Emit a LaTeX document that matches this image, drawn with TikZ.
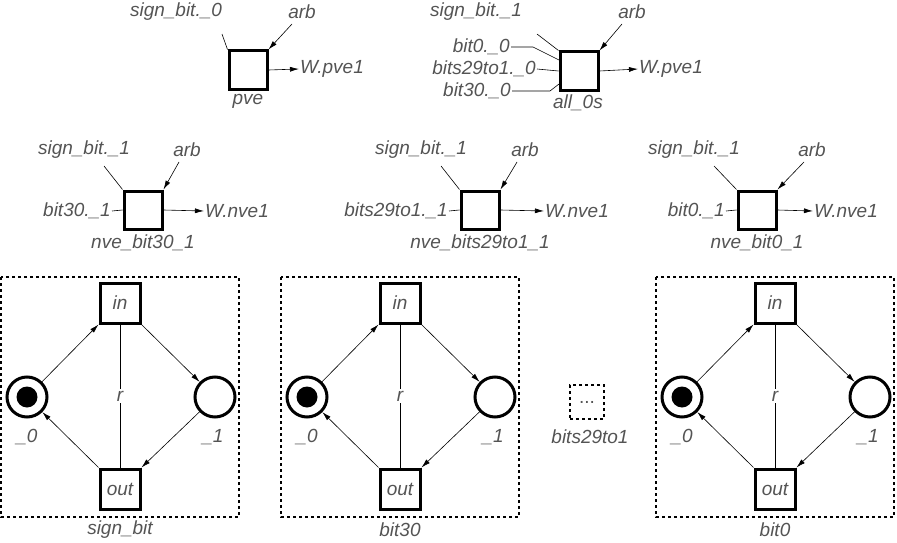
\documentclass[tikz,border=0pt]{standalone}
\usepackage{fontspec}
\setmainfont{Liberation Sans}
\usetikzlibrary{arrows.meta}
\definecolor{txt}{gray}{0.33}
\begin{document}
\begin{tikzpicture}[x=1pt,y=-1pt,
  lbl/.style={font=\fontsize{19}{20}\selectfont\itshape,text=txt,inner sep=1pt},
  trans/.style={draw,line width=3pt,minimum size=38pt,inner sep=0pt},
  ptrans/.style={draw,line width=3pt,minimum size=40pt,inner sep=0pt,font=\fontsize{19}{20}\selectfont\itshape,text=txt},
  place/.style={draw,circle,line width=3pt,minimum size=40pt,inner sep=0pt},
  arr/.style={-{Latex[length=9pt,width=5pt]},line width=0.6pt},
  ln/.style={line width=0.6pt},
  grp/.style={draw,dashed,line width=1.2pt}]
\useasboundingbox (0,0) rectangle (897,543);
% --- pve
\node[trans] (pve) at (248,70) {};
\node[lbl] (pves) at (176,12) {sign\_bit.\_0};
\node[lbl] (pvea) at (302,12) {arb};
\node[lbl] (pvew) at (332,69) {W.pve1};
\node[lbl] at (248,101) {pve};
\draw[ln] (222,34) -- (pve.north west);
\draw[arr] (292,24) -- (pve.north east);
\draw[arr] (pve.east) -- (pvew.west);
% --- all_0s
\node[trans] (a0) at (579,71) {};
\node[lbl] (a0s) at (476,12) {sign\_bit.\_1};
\node[lbl] (a0a) at (632,12) {arb};
\node[lbl] (a0w) at (671,69) {W.pve1};
\node[lbl] at (578,103) {all\_0s};
\node[lbl,anchor=east] (b0) at (511,47) {bit0.\_0};
\node[lbl,anchor=east] (b29) at (537,69) {bits29to1.\_0};
\node[lbl,anchor=east] (b30) at (512,91) {bit30.\_0};
\draw[ln] (537,34) -- (a0.north west);
\draw[arr] (622,24) -- (a0.north east);
\draw[arr] (a0.east) -- (a0w.west);
\draw[ln] (b0.east) -- (533,47) -- (559,60);
\draw[ln] (b29.east) -- (a0.west);
\draw[ln] (b30.east) -- (550,91) -- (559,84);
% --- middle row
\foreach \cx/\inl/\inx/\nm/\sx/\ax/\wx in {143/bit30.\_1/112/nve\_bit30\_1/84/187/237, 480/bits29to1.\_1/449/nve\_bits29to1\_1/421/525/577, 757/bit0.\_1/726/nve\_bit0\_1/694/812/846}{
  \node[trans] (m\cx) at (\cx,210) {};
  \node[lbl] at (\sx,150) {sign\_bit.\_1};
  \node[lbl] at (\ax,150) {arb};
  \node[lbl] (mw\cx) at (\wx,211) {W.nve1};
  \node[lbl,anchor=east] (mi\cx) at (\inx,211) {\inl};
  \node[lbl] at (\cx,243) {\nm};
  \draw[ln] (\sx+20,166) -- (m\cx.north west);
  \draw[arr] (\ax-8,162) -- (m\cx.north east);
  \draw[arr] (m\cx.east) -- (mw\cx.west);
  \draw[ln] (mi\cx.east) -- (m\cx.west);
}
% --- bottom groups
\foreach \cx/\nm in {120/sign\_bit, 400/bit30, 775/bit0}{
  \draw[grp] (\cx-119,277) rectangle (\cx+119,517);
  \node[lbl] at (\cx,530) {\nm};
  \node[ptrans] (in\cx) at (\cx,303) {in};
  \node[ptrans] (out\cx) at (\cx,489) {out};
  \node[place] (p0\cx) at (\cx-93,397) {};
  \fill (p0\cx) circle (10.5);
  \node[place] (p1\cx) at (\cx+95,397) {};
  \node[lbl] at (\cx-93,437) {\_0};
  \node[lbl] at (\cx+93,437) {\_1};
  \draw[ln] (in\cx) -- node[lbl,fill=white,inner sep=2pt]{r} (out\cx);
  \draw[arr] (p0\cx) -- (in\cx.south west);
  \draw[arr] (in\cx.south east) -- (p1\cx);
  \draw[arr] (p1\cx) -- (out\cx.north east);
  \draw[arr] (out\cx.north west) -- (p0\cx);
}
\node[draw,dashed,line width=1.2pt,minimum size=34pt,inner sep=0pt,font=\fontsize{19}{20}\selectfont,text=txt] (dots) at (587,402) {...};
\node[lbl] at (590,437) {bits29to1};
\end{tikzpicture}
\end{document}
